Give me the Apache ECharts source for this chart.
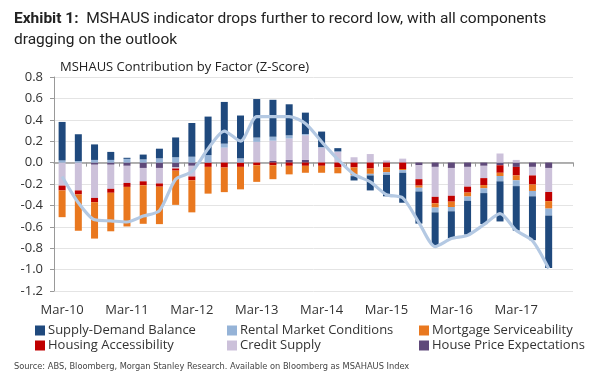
<!DOCTYPE html>
<html><head><meta charset="utf-8">
<script src="https://cdn.jsdelivr.net/npm/echarts@6/dist/echarts.min.js"></script>
<style>html,body{margin:0;padding:0;background:#fff}#c{width:600px;height:387px}</style>
</head><body><div id="c"></div>
<script>
const categories = ['Mar-10','Jun-10','Sep-10','Dec-10','Mar-11','Jun-11','Sep-11','Dec-11',
  'Mar-12','Jun-12','Sep-12','Dec-12','Mar-13','Jun-13','Sep-13','Dec-13',
  'Mar-14','Jun-14','Sep-14','Dec-14','Mar-15','Jun-15','Sep-15','Dec-15',
  'Mar-16','Jun-16','Sep-16','Dec-16','Mar-17','Jun-17','Sep-17','Dec-17'];
const yTicks = { min: -1.2, max: 0.8, step: 0.2 };

const supplyDemand = [0.36,0.25,0.145,0.075,0.01,0.045,0.09,0.185,0.315,0.36,0.39,0.40,0.36,0.345,0.29,0.20,
  0.145,0.03,-0.04,-0.14,-0.2,-0.28,-0.3,-0.31,-0.25,-0.315,-0.29,-0.375,-0.415,-0.41,-0.49,null];
const rentalMarket = [0.02,0.015,0.025,0.025,0.035,0.03,0.04,0.05,0.055,0.07,0.037,0.04,0.04,0.037,0.03,0.012,
  0.005,0.005,-0.012,-0.015,-0.025,-0.025,-0.035,-0.045,-0.04,-0.04,-0.045,-0.05,-0.055,-0.05,-0.065,null];
const mortgageService = [-0.25,-0.34,-0.34,-0.36,-0.37,-0.36,-0.35,-0.32,-0.3,-0.25,-0.23,-0.21,-0.155,-0.13,-0.08,-0.065,
  -0.065,-0.055,-0.07,-0.05,-0.045,-0.01,-0.02,-0.04,-0.05,-0.037,-0.03,-0.03,-0.045,-0.06,-0.07,null];
const housingAccess = [-0.045,-0.037,-0.04,-0.037,-0.037,-0.037,-0.03,-0.02,-0.035,-0.04,-0.046,-0.04,-0.025,-0.025,-0.03,-0.03,
  -0.03,-0.045,-0.045,-0.055,-0.045,-0.06,-0.06,-0.06,-0.055,-0.055,-0.065,-0.07,-0.08,-0.085,-0.085,null];
const creditSupply = [-0.215,-0.26,-0.31,-0.225,-0.16,-0.125,-0.145,-0.01,-0.1,0,0.14,0,0.194,0.19,0.2,0.23,
  0.14,0.1,0.05,0.08,0.02,0.037,-0.13,-0.28,-0.26,-0.185,-0.115,0.085,0.025,-0.08,-0.225,null];
const housePriceExp = [0,0,-0.02,-0.02,-0.03,-0.05,-0.05,-0.045,-0.03,0,0,0,0,0.015,0.025,0.025,
  0,0,0,0,0,0,-0.025,-0.04,-0.05,-0.04,-0.03,-0.025,-0.04,-0.04,-0.05,null];
const mshausIndex = [-0.13,-0.375,-0.535,-0.545,-0.555,-0.5,-0.45,-0.155,-0.085,0.13,0.295,0.2,0.43,0.43,0.43,0.365,
  0.195,0.03,-0.11,-0.18,-0.3,-0.33,-0.56,-0.785,-0.71,-0.68,-0.58,-0.477,-0.635,-0.73,-0.99,null];

const names = ['Supply-Demand Balance','Rental Market Conditions','Mortgage Serviceability',
  'Housing Accessibility','Credit Supply','House Price Expectations'];
const colors = {
  'Supply-Demand Balance':'#1f497d','Rental Market Conditions':'#95b3d7','Mortgage Serviceability':'#e9781f',
  'Housing Accessibility':'#c00000','Credit Supply':'#ccc1da','House Price Expectations':'#5f497a'
};
const stackOrder = [
  ['House Price Expectations', housePriceExp],
  ['Credit Supply', creditSupply],
  ['Housing Accessibility', housingAccess],
  ['Mortgage Serviceability', mortgageService],
  ['Rental Market Conditions', rentalMarket],
  ['Supply-Demand Balance', supplyDemand]
];
const FONT = '"Open Sans", sans-serif';
const chart = echarts.init(document.getElementById('c'), null, {renderer:'canvas'});
const barSeries = stackOrder.map(([n, d]) => ({
  name: n, type: 'bar', stack: 'total', data: d, barWidth: 7,
  xAxisIndex: 0, yAxisIndex: 0,
  itemStyle: { color: colors[n] }, emphasis: { disabled: true }
}));
const legendBase = {
  orient: 'vertical', top: 319, itemWidth: 10, itemHeight: 10, itemGap: 2,
  icon: 'rect', selectedMode: false,
  textStyle: { fontFamily: FONT, fontSize: 13, color: '#333', padding: [0,0,0,-2] }
};
chart.setOption({
  animation: false,
  backgroundColor: '#fff',
  title: [
    { text: '{b|Exhibit 1:}  MSHAUS indicator drops further to record low, with all components\ndragging on the outlook',
      left: 9, top: 4,
      textStyle: { fontFamily: 'Roboto, sans-serif', fontSize: 15.5, fontWeight: 'normal', color: '#222', lineHeight: 21,
        rich: { b: { fontFamily: 'Roboto, sans-serif', fontSize: 15.5, fontWeight: 'bold', color: '#222', lineHeight: 21 } } } },
    { text: 'MSHAUS Contribution by Factor (Z-Score)', left: 55, top: 56,
      textStyle: { fontFamily: FONT, fontSize: 13, fontWeight: 'normal', color: '#222' } },
    { text: 'Source: ABS, Bloomberg, Morgan Stanley Research. Available on Bloomberg as MSAHAUS Index',
      left: 9, top: 357,
      textStyle: { fontFamily: '"Liberation Sans Narrow", "DejaVu Sans Condensed", sans-serif', fontSize: 9.2, fontWeight: 'normal', color: '#444' } }
  ],
  legend: [
    Object.assign({}, legendBase, { left: 30, data: [names[0], names[3]] }),
    Object.assign({}, legendBase, { left: 222, data: [names[1], names[4]] }),
    Object.assign({}, legendBase, { left: 414, data: [names[2], names[5]] })
  ],
  grid: { left: 54, right: 27, top: 77, bottom: 96, containLabel: false },
  xAxis: [
    { type: 'category', data: categories, position: 'bottom', boundaryGap: true,
      axisLine: { show: false, onZero: false }, axisTick: { show: false },
      axisLabel: { interval: 3, margin: 13, fontFamily: FONT, fontSize: 13, color: '#333' },
      splitLine: { show: false } },
    { type: 'category', data: categories, position: 'bottom', boundaryGap: true,
      axisLine: { show: true, onZero: true, lineStyle: { color: '#999', width: 1.5 } },
      axisTick: { show: true, interval: 1, length: 4, lineStyle: { color: '#999' } },
      axisLabel: { show: false }, splitLine: { show: false } }
  ],
  yAxis: {
    type: 'value', min: yTicks.min, max: yTicks.max, interval: yTicks.step,
    axisLine: { show: true, lineStyle: { color: '#999' } },
    axisTick: { show: true, length: 4, lineStyle: { color: '#999' } },
    axisLabel: { margin: 11, fontFamily: FONT, fontSize: 13, color: '#333', formatter: v => v.toFixed(1) },
    splitLine: { show: true, lineStyle: { color: '#e4e4e4', width: 1 } }
  },
  series: barSeries.concat([{
    name: 'MSHAUS Index', type: 'line', data: mshausIndex, xAxisIndex: 0, yAxisIndex: 0,
    symbol: 'none', smooth: 0.25, z: 5,
    lineStyle: { color: '#b4c9e3', width: 3.2 }, emphasis: { disabled: true }
  }])
});
</script>
</body></html>
